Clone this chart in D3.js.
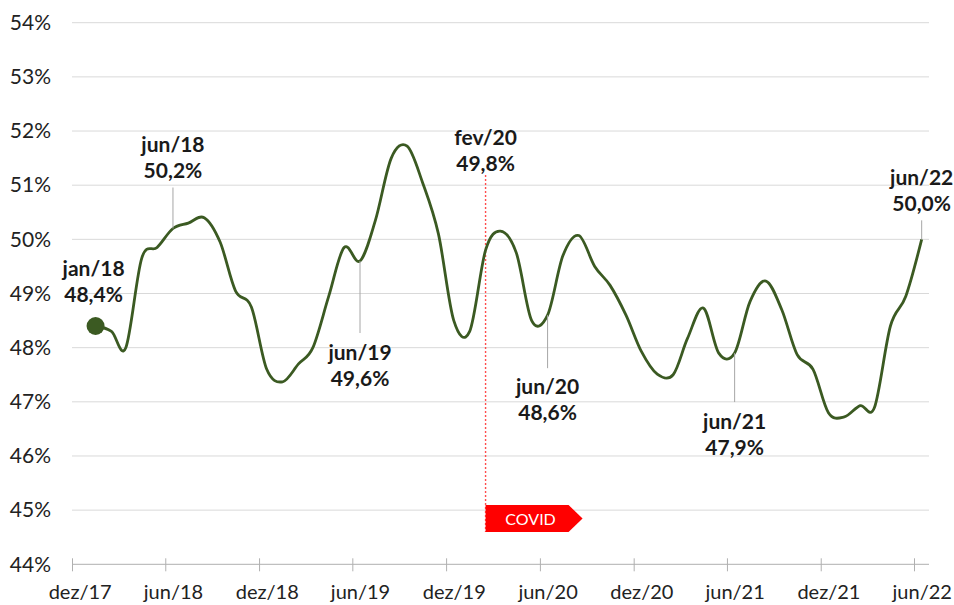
<!DOCTYPE html>
<html>
<head>
<meta charset="utf-8">
<script src="https://cdn.jsdelivr.net/npm/d3@7"></script>
<style>
  body { margin: 0; background: #fff; }
  svg { display: block; font-family: Lato, "Noto Sans", sans-serif; }
</style>
</head>
<body>
<svg id="chart" width="954" height="605"></svg>
<script>
// taxa mensal, jan/18 .. jun/22
var firstMonth = [2018, 0];
var values = [
  48.4, 48.3, 48.0, 49.65, 49.85, 50.2, 50.3, 50.4, 49.95, 49.05, 48.75, 47.6,
  47.37, 47.7, 48.0, 48.95, 49.85, 49.6, 50.35, 51.5, 51.72, 51.05, 50.1, 48.5,
  48.3, 49.8, 50.15, 49.75, 48.5, 48.6, 49.7, 50.07, 49.5, 49.15, 48.6, 47.93,
  47.51, 47.5, 48.17, 48.73, 47.9, 47.9, 48.85, 49.23, 48.7, 47.87, 47.6, 46.8,
  46.72, 46.93, 46.9, 48.4, 48.95, 50.0
];
var tickLabels = ['dez/17', 'jun/18', 'dez/18', 'jun/19', 'dez/19', 'jun/20', 'dez/20', 'jun/21', 'dez/21', 'jun/22'];
var yTicks = [44, 45, 46, 47, 48, 49, 50, 51, 52, 53, 54];
var calloutMonths = ['jan/18', 'jun/18', 'jun/19', 'fev/20', 'jun/20', 'jun/21', 'jun/22'];
var covidMonth = 'fev/20';
var covidText = 'COVID';

var mes = ['jan', 'fev', 'mar', 'abr', 'mai', 'jun', 'jul', 'ago', 'set', 'out', 'nov', 'dez'];
function fmtMonth(d) { return mes[d.getUTCMonth()] + '/' + String(d.getUTCFullYear()).slice(2); }
function fmtPct(v) { return v.toFixed(1).replace('.', ',') + '%'; }
function midMonth(d) { return new Date(Date.UTC(d.getUTCFullYear(), d.getUTCMonth(), 16)); }

var data = values.map(function (v, i) {
  var m = new Date(Date.UTC(firstMonth[0], firstMonth[1] + i, 1));
  return { month: m, label: fmtMonth(m), value: v };
});
var tickDates = tickLabels.map(function (t, i) {
  return new Date(Date.UTC(2017, 11 + 6 * i, 1));
});

var svg = d3.select('#chart');
var left = 72, right = 929;

var x = d3.scaleUtc()
  .domain([tickDates[0], tickDates[tickDates.length - 1]])
  .range([72, 914]);
var y = d3.scaleLinear().domain([44, 54]).range([564.3, 22.7]);

// grade
svg.append('g').selectAll('line')
  .data(yTicks.slice(1))
  .enter().append('line')
    .attr('x1', left).attr('x2', right)
    .attr('y1', function (d) { return y(d); })
    .attr('y2', function (d) { return y(d); })
    .attr('stroke', '#d9d9d9').attr('stroke-width', 1);

// eixo y
var yAxis = svg.append('g')
  .attr('transform', 'translate(' + left + ',0)')
  .call(d3.axisLeft(y).tickValues(yTicks).tickSize(0).tickPadding(21)
    .tickFormat(function (d) { return d + '%'; }));
yAxis.select('.domain').remove();
yAxis.selectAll('text').attr('font-size', 21).attr('fill', '#222')
  .attr('font-family', 'Lato, sans-serif');

// eixo x
var xAxis = svg.append('g')
  .attr('transform', 'translate(0,' + y(44) + ')')
  .call(d3.axisBottom(x).tickValues(tickDates).tickSizeOuter(0)
    .tickFormat(function (d, i) { return tickLabels[i]; }));
xAxis.select('.domain').attr('d', 'M' + left + ',0H' + right).attr('stroke', '#b0b0b0');
xAxis.selectAll('.tick line').attr('y1', -6).attr('y2', 7).attr('stroke', '#b0b0b0');
xAxis.selectAll('.tick text')
  .attr('x', function (d) { return x(midMonth(d)) - x(d); })
  .attr('y', 0).attr('dy', 0)
  .attr('transform', 'translate(0,35)')
  .attr('font-size', 20).attr('fill', '#222')
  .attr('font-family', 'Lato, sans-serif');

// covid
var covid = data.find(function (d) { return d.label === covidMonth; });
var cx = x(midMonth(covid.month));
svg.append('line')
  .attr('x1', cx).attr('x2', cx)
  .attr('y1', 175).attr('y2', 532)
  .attr('stroke', '#ff4d4d').attr('stroke-width', 1.4)
  .attr('stroke-dasharray', '2,2');
svg.append('path')
  .attr('d', 'M' + cx + ',505H' + (cx + 83) + 'L' + (cx + 97) + ',518.5L' + (cx + 83) + ',532H' + cx + 'Z')
  .attr('fill', '#ff0000');
svg.append('text')
  .attr('x', cx + 45).attr('y', 524.5)
  .attr('text-anchor', 'middle')
  .attr('font-size', 16).attr('fill', '#fff')
  .text(covidText);

// linha
var line = d3.line()
  .x(function (d) { return x(midMonth(d.month)); })
  .y(function (d) { return y(d.value); })
  .curve(d3.curveCardinal.tension(0));

svg.append('path')
  .datum(data)
  .attr('d', line)
  .attr('fill', 'none')
  .attr('stroke', '#3b5a22')
  .attr('stroke-width', 2.8);

svg.append('circle')
  .attr('cx', x(midMonth(data[0].month)))
  .attr('cy', y(data[0].value))
  .attr('r', 9)
  .attr('fill', '#3b5a22');

// rotulos
var layout = {
  'jan/18': { lead: 0, first: -50, dx: -2 },
  'jun/18': { lead: -41, first: -36, dx: 0 },
  'jun/19': { lead: 72, first: 27, dx: 0 },
  'fev/20': { lead: 0, first: -105, dx: 0 },
  'jun/20': { lead: 53, first: 26, dx: 0 },
  'jun/21': { lead: 49, first: 27, dx: 0 },
  'jun/22': { lead: -19, first: -35, dx: 0 }
};

calloutMonths.forEach(function (lbl) {
  var d = data.find(function (e) { return e.label === lbl; });
  var L = layout[lbl];
  var px = x(midMonth(d.month)), py = y(d.value);
  var end = py + L.lead;
  if (L.lead !== 0) {
    svg.append('line')
      .attr('x1', px).attr('x2', px)
      .attr('y1', py).attr('y2', end)
      .attr('stroke', '#a6a6a6').attr('stroke-width', 1);
  }
  var b1 = end + L.first;
  var t = svg.append('text')
    .attr('text-anchor', 'middle')
    .attr('font-size', 21).attr('font-weight', 'bold').attr('fill', '#1a1a1a');
  t.append('tspan').attr('x', px + L.dx).attr('y', b1).text(lbl);
  t.append('tspan').attr('x', px + L.dx).attr('y', b1 + 26).text(fmtPct(d.value));
});
</script>
</body>
</html>
